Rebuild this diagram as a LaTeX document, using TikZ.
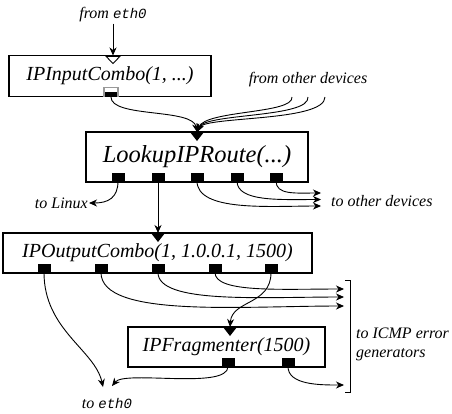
\documentclass[tikz,border=0pt]{standalone}
\usepackage{fontspec}
\setmainfont{Liberation Serif}
\setmonofont{Liberation Mono}
\usetikzlibrary{arrows.meta,calc}
\newcommand{\ethz}{{\ttfamily\itshape\fontsize{14bp}{16bp}\selectfont eth0}}
\begin{document}
\begin{tikzpicture}[x=1bp,y=-1bp,
  elem/.style={draw, line width=1.6bp, inner sep=0pt, font=\fontsize{20bp}{24bp}\selectfont\itshape},
  bigelem/.style={elem, font=\fontsize{24.5bp}{28bp}\selectfont\itshape},
  lbl/.style={inner sep=1bp, font=\fontsize{16bp}{19bp}\selectfont\itshape},
  oport/.style={fill=black, draw=none, minimum width=13bp, minimum height=8bp, inner sep=0pt, anchor=south},
  conn/.style={line width=0.9bp, -{Stealth[length=8bp,width=7bp,inset=2.5bp]}},
  tri/.style={fill=black},
  ]
\useasboundingbox (0,0) rectangle (452,413);

% elements
\node[elem, minimum width=202bp, minimum height=41bp] (inbox) at (110,76) {IPInputCombo(1, ...)};
\node[bigelem, minimum width=222bp, minimum height=50bp] (lookup) at (197,157) {LookupIPRoute(...)};
\node[elem, minimum width=309bp, minimum height=40bp] (outbox) at (157.5,253) {IPOutputCombo(1, 1.0.0.1, 1500)};
\node[elem, minimum width=197bp, minimum height=40bp] (frag) at (226.5,347) {IPFragmenter(1500)};

% input ports
\coordinate (inIn) at (113,55.5);
\coordinate (lkIn) at (197,132);
\coordinate (ocIn) at (158,233);
\coordinate (frIn) at (230,327);
\draw[fill=white, line width=0.9bp] ($(inIn)+(-7,0.8)$) -- ($(inIn)+(7,0.8)$) -- ($(inIn)+(0,8)$) -- cycle;
\fill[tri] ($(lkIn)+(-7,0)$) -- ($(lkIn)+(7,0)$) -- ($(lkIn)+(0,9)$) -- cycle;
\fill[tri] ($(ocIn)+(-7,0)$) -- ($(ocIn)+(7,0)$) -- ($(ocIn)+(0,9)$) -- cycle;
\fill[tri] ($(frIn)+(-7,0)$) -- ($(frIn)+(7,0)$) -- ($(frIn)+(0,9)$) -- cycle;

% output ports
\node[draw=gray!80, fill=white, line width=1.2bp, minimum width=14bp, minimum height=9bp, inner sep=0pt, anchor=south] (ip) at (111,97) {};
\fill[black] (105,91.5) rectangle (117,97);
\node[oport] (lp1) at (118,181) {};
\node[oport] (lp2) at (158,181) {};
\node[oport] (lp3) at (197,181) {};
\node[oport] (lp4) at (237,181) {};
\node[oport] (lp5) at (276,181) {};
\node[oport] (op1) at (44,272.5) {};
\node[oport] (op2) at (101,272.5) {};
\node[oport] (op3) at (158,272.5) {};
\node[oport] (op4) at (215,272.5) {};
\node[oport] (op5) at (271,272.5) {};
\node[oport] (fp1) at (228,366.5) {};
\node[oport] (fp2) at (288,366.5) {};

% labels
\node[lbl] (feth) at (113,15) {from \ethz};
\node[lbl] (fod) at (308,80) {from other devices};
\node[lbl, anchor=east] (tlin) at (89,203) {to Linux};
\node[lbl, anchor=west] (tod) at (330,201) {to other devices};
\node[lbl] (teth) at (107,403) {to \ethz};
\node[lbl, anchor=west, align=left] (ticmp) at (355,344) {to ICMP error\\generators};

% free ends
\coordinate (fo1) at (292,97);
\coordinate (fo2) at (308,97);
\coordinate (fo3) at (325,97);
\coordinate (od1) at (321,193);
\coordinate (od2) at (321,199.5);
\coordinate (od3) at (321,206);
\coordinate (ic1) at (344,289);
\coordinate (ic2) at (344,297);
\coordinate (ic3) at (344,306);
\coordinate (ic4) at (344,385);
\coordinate (e1) at (103,387);
\coordinate (e2) at (112,386);

% connectors
\draw[conn] (feth) -- (inIn);
\draw[conn] (ip.south) .. controls (111,118) and (193,108) .. (lkIn);
\draw[conn] (fo1) .. controls (294,114) and (205,110) .. (lkIn);
\draw[conn] (fo2) .. controls (310,118) and (205,113) .. (lkIn);
\draw[conn] (fo3) .. controls (325,122) and (205,116) .. (lkIn);

\draw[conn] (lp1.south) .. controls (118,198) and (108,203) .. (tlin.east);
\draw[conn] (lp2.south) -- (ocIn);
\draw[conn] (lp3.south) .. controls (197,212) and (270,206) .. (od3);
\draw[conn] (lp4.south) .. controls (237,202) and (280,199.5) .. (od2);
\draw[conn] (lp5.south) .. controls (276,195) and (295,193) .. (od1);

\draw[conn] (op1.south) .. controls (44,330) and (95,350) .. (e1);
\draw[conn] (op2.south) .. controls (101,318) and (240,306) .. (ic3);
\draw[conn] (op3.south) .. controls (158,304) and (260,297) .. (ic2);
\draw[conn] (op4.south) .. controls (215,293) and (280,289) .. (ic1);
\draw[conn] (op5.south) .. controls (271,305) and (232,300) .. (frIn);
\draw[conn] (fp1.south) .. controls (228,390) and (125,370) .. (e2);
\draw[conn] (fp2.south) .. controls (288,385) and (320,385) .. (ic4);

% bracket
\draw[line width=0.9bp] (345,280) -- (350,280) -- (350,392) -- (345,392);
\end{tikzpicture}
\end{document}
